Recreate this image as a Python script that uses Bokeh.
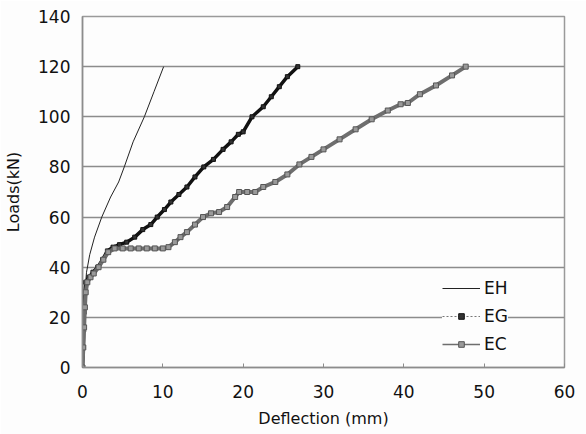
from bokeh.plotting import figure
from bokeh.models import Range1d, Legend, LegendItem, FixedTicker
from bokeh.embed import file_html
from bokeh.resources import INLINE

# ---- data ----
eh_x = [0, 0.1, 0.2, 0.3, 0.5, 0.9, 1.5, 2.4, 3.5, 4.5, 5.2, 6.3, 7.7, 8.9, 10.1]
eh_y = [0, 10, 20, 30, 38, 45, 52, 60, 68, 74, 80, 90, 100, 110, 120]

eg_x = [0, 0.1, 0.15, 0.2, 0.3, 0.4, 0.8, 1.3, 1.9, 2.5, 3.1, 3.8, 4.6, 5.5, 6.5, 7.5,
        8.5, 9.3, 10.2, 11, 12, 13, 14, 15.1, 16.3, 17.5, 18.5, 19.4, 20, 21.1, 22.5,
        23.5, 24.5, 25.5, 26.8]
eg_y = [0, 8, 15, 22, 30, 34, 36, 38, 40, 43, 46.5, 48, 49, 50, 52, 55,
        57, 60, 63, 66, 69, 72, 76, 80, 83, 87, 90, 93, 94, 100, 104,
        108, 112, 116, 120]

ec_x = [0, 0.1, 0.2, 0.3, 0.4, 0.6, 1.0, 1.4, 2.0, 2.6, 3.2, 4, 5, 6, 7, 8, 9, 10,
        10.7, 11.5, 12.2, 13, 14, 15, 16, 17, 18, 19, 19.5, 20.5, 21.5, 22.5, 24,
        25.5, 27, 28.5, 30, 32, 34, 36, 38, 39.6, 40.5, 42, 44, 46, 47.7]
ec_y = [0, 8, 16, 24, 30, 34, 36, 37.5, 40, 43, 46, 47.5, 47.5, 47.5, 47.5, 47.5, 47.5, 47.5,
        48, 50, 52, 54, 57, 60, 61.5, 62, 64, 68, 70, 70, 70, 72, 74,
        77, 81, 84, 87, 91, 95, 99, 102.5, 105, 105.5, 109, 112.5, 116.5, 120]

series_names = ["EH", "EG", "EC"]
x_ticks = [0, 10, 20, 30, 40, 50, 60]
y_ticks = [0, 20, 40, 60, 80, 100, 120, 140]

FONT = "DejaVu Sans"

p = figure(width=586, height=434, output_backend="svg", toolbar_location=None,
           x_range=Range1d(0, 60), y_range=Range1d(0, 140),
           min_border_left=82, min_border_right=22, min_border_top=16, min_border_bottom=67)
p.background_fill_color = "#fdfdfd"
p.border_fill_color = "#fdfdfd"
p.outline_line_color = "#9a9a9a"
p.outline_line_width = 1.5

# grid
p.xgrid.visible = False
p.ygrid.ticker = FixedTicker(ticks=y_ticks)
p.ygrid.grid_line_color = "#8c8c8c"
p.ygrid.grid_line_width = 1.5

# axes
p.xaxis.ticker = FixedTicker(ticks=x_ticks)
p.yaxis.ticker = FixedTicker(ticks=y_ticks)
for ax in (p.xaxis[0], p.yaxis[0]):
    ax.axis_line_color = "#8c8c8c"
    ax.axis_line_width = 1.5
    ax.major_tick_line_color = "#8c8c8c"
    ax.minor_tick_line_color = None
    ax.major_label_text_font = FONT
    ax.major_label_text_font_size = "17px"
    ax.major_label_text_color = "#111111"
    ax.axis_label_text_font = FONT
    ax.axis_label_text_font_style = "normal"
    ax.axis_label_text_font_size = "16px"
    ax.axis_label_text_color = "#111111"
p.xaxis.major_tick_in = 4
p.xaxis.major_tick_out = 0
p.xaxis.major_label_standoff = 17
p.xaxis.axis_label = "Deflection (mm)"
p.xaxis.axis_label_standoff = 8
p.yaxis.major_tick_in = 0
p.yaxis.major_tick_out = 0
p.yaxis.major_label_standoff = 12
p.yaxis.axis_label = "Loads(kN)"
p.yaxis.axis_label_standoff = 12

# series
eh = p.line(eh_x, eh_y, line_color="#222222", line_width=1)

eg_dot = p.line(eg_x, eg_y, line_color="#777777", line_width=1.2, line_dash="2 2")
ec_thin = p.line(ec_x, ec_y, line_color="#6e6e6e", line_width=1.5)
eg_thick = p.line(eg_x, eg_y, line_color="#111111", line_width=3.5)
eg_mk = p.scatter(eg_x, eg_y, marker="square", size=4, fill_color="#333333", line_color="#111111")

ec_thick = p.line(ec_x, ec_y, line_color="#6e6e6e", line_width=4)
ec_mk = p.scatter(ec_x, ec_y, marker="square", size=5, fill_color="#9a9a9a", line_color="#555555")

# legend
leg = Legend(items=[
    LegendItem(label=series_names[0], renderers=[eh]),
    LegendItem(label=series_names[1], renderers=[eg_dot, eg_mk]),
    LegendItem(label=series_names[2], renderers=[ec_thin, ec_mk]),
], location=(360, 9), orientation="vertical")
leg.glyph_width = 38
leg.glyph_height = 14
leg.label_height = 28
leg.spacing = 0
leg.padding = 2
leg.margin = 0
leg.label_standoff = 4
leg.label_text_font = FONT
leg.label_text_font_size = "17px"
leg.label_text_color = "#111111"
leg.border_line_color = None
leg.background_fill_color = "#fdfdfd"
leg.background_fill_alpha = 1
p.add_layout(leg)

open("out.html", "w").write(file_html(p, INLINE))
